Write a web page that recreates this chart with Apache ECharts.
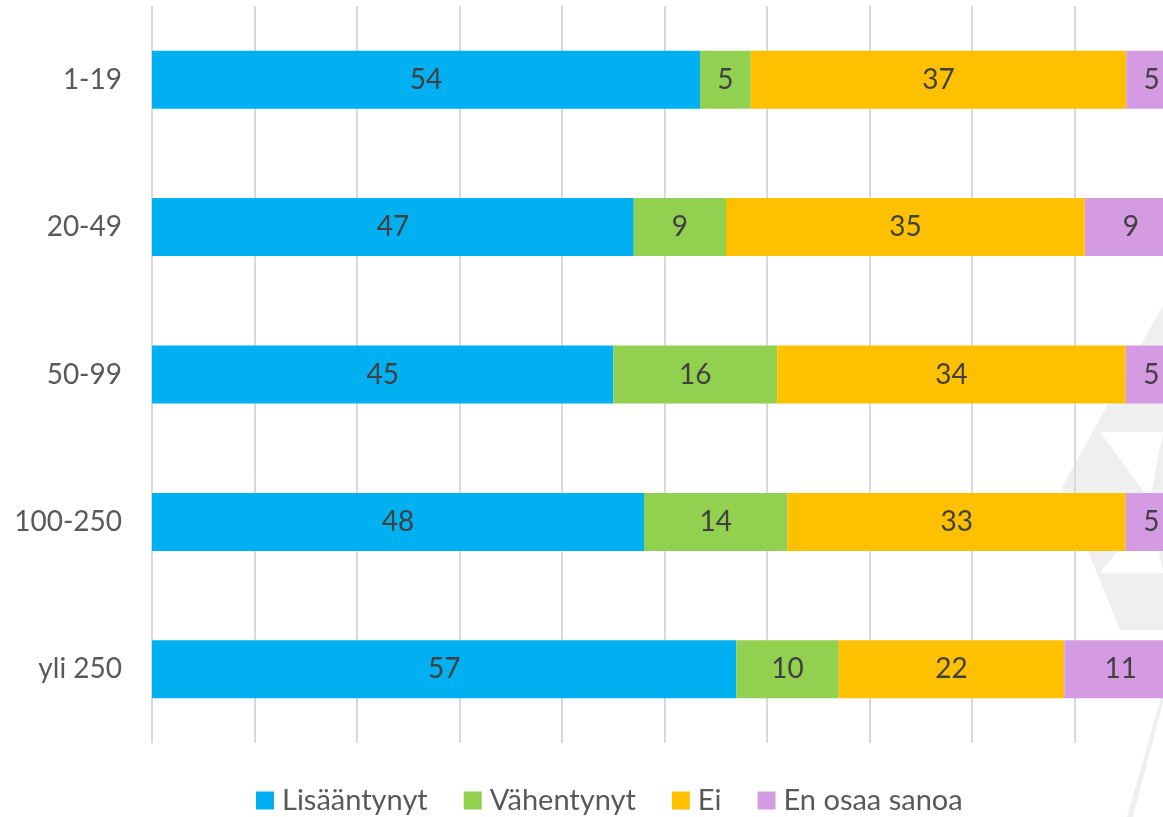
<!DOCTYPE html>
<html>
<head>
<meta charset="utf-8">
<script src="https://cdn.jsdelivr.net/npm/echarts@6/dist/echarts.min.js"></script>
<style>
  html, body { margin: 0; padding: 0; background: #fff; overflow: hidden; }
  /* kaavio jatkuu kuvan oikean reunan yli, 100 % osuu kohtaan x=1177 */
  #chart { width: 1180px; height: 817px; }
</style>
</head>
<body>
<div id="chart"></div>
<script>
// kategoriat ylhäältä alas
const categories = ['1-19', '20-49', '50-99', '100-250', 'yli 250'];

const lisaantynyt = [54, 47, 45, 48, 57];
const vahentynyt = [5, 9, 16, 14, 10];
const ei = [37, 35, 34, 33, 22];
const enOsaa = [5, 9, 5, 5, 11];

const seriesNames = ['Lisääntynyt', 'Vähentynyt', 'Ei', 'En osaa sanoa'];
const seriesColors = ['#00B0F0', '#92D050', '#FFC000', '#D59BE2'];
const seriesData = [lisaantynyt, vahentynyt, ei, enOsaa];

const FONT = 'Lato';

// 100 % pinottu: rivit skaalataan summaan (1-19 summa on 101)
const totals = categories.map((_, j) => seriesData.reduce((s, arr) => s + arr[j], 0));

const chart = echarts.init(document.getElementById('chart'));

const series = seriesData.map((data, i) => ({
  name: seriesNames[i],
  type: 'bar',
  stack: 'total',
  data: data.map((v, j) => v / totals[j] * 100),
  barWidth: 58,
  itemStyle: { color: seriesColors[i] },
  label: {
    show: true,
    position: 'inside',
    color: '#404040',
    fontSize: 28,
    fontFamily: FONT,
    formatter: p => String(data[p.dataIndex])
  }
}));

// taustan vaalea kolmiokuvio oikeassa reunassa
const watermark = [
  { points: [[1163, 305], [1062, 487], [1120, 630], [1163, 630]] },
  { points: [[1163, 690], [1127, 817], [1133, 817], [1163, 703]] }
];
const cutouts = [
  { points: [[1100, 432], [1163, 432], [1150, 500]] },
  { points: [[1100, 573], [1163, 573], [1150, 510]] }
];

chart.setOption({
  animation: false,
  textStyle: { fontFamily: FONT },
  graphic: [
    ...watermark.map(w => ({
      type: 'polygon', z: -10, silent: true,
      shape: { points: w.points },
      style: { fill: '#efefef' }
    })),
    ...cutouts.map(w => ({
      type: 'polygon', z: -9, silent: true,
      shape: { points: w.points },
      style: { fill: '#ffffff' }
    }))
  ],
  legend: {
    top: 781,
    left: 251,
    itemWidth: 18,
    itemHeight: 18,
    itemGap: 36,
    icon: 'rect',
    textStyle: {
      fontSize: 29,
      color: '#595959',
      fontFamily: FONT,
      padding: [0, 0, 0, 3]
    },
    data: seriesNames
  },
  grid: {
    left: 152,
    right: 3,
    top: 6,
    bottom: 74,
    containLabel: false
  },
  xAxis: {
    type: 'value',
    min: 0,
    max: 100,
    interval: 10,
    axisLabel: { show: false },
    axisLine: { show: false },
    axisTick: { show: false },
    splitLine: { lineStyle: { color: '#d9d9d9', width: 2 } }
  },
  yAxis: {
    type: 'category',
    inverse: true,
    data: categories,
    axisLine: { show: false },
    axisTick: { show: false },
    axisLabel: {
      color: '#595959',
      fontSize: 28,
      fontFamily: FONT,
      margin: 30
    }
  },
  series: series
});

window.addEventListener('resize', () => chart.resize());
</script>
</body>
</html>
